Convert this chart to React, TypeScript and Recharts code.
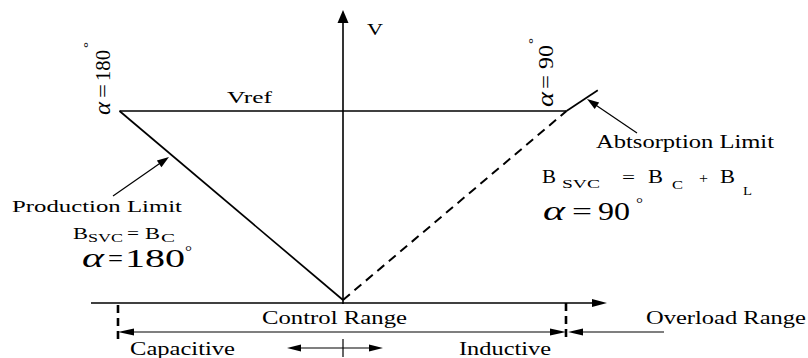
import React from 'react';
import { ComposedChart, Line, XAxis, YAxis, ReferenceLine, ReferenceDot } from 'recharts';

// ---- SVC steady-state V–I characteristic (per-unit values) ----
// current axis: -1 = capacitive limit, 0 = origin, +1 = inductive limit
const productionCurrent = [-1, 0];
const productionVoltage = [1, 0];
const controlCurrent = [0, 1];
const controlVoltage = [0, 1];
const absorptionCurrent = [1, 1.14];
const absorptionVoltage = [1, 1.11];
const vrefCurrent = [-1, 1];
const vrefVoltage = [1, 1];

// ---- layout ----
const W = 808;
const H = 358;
const OX = 343;
const OY = 300;
const UX = 223.5;
const UY = 189;
const X_DOMAIN: [number, number] = [-OX / UX, (W - OX) / UX];
const Y_DOMAIN: [number, number] = [-(H - OY) / UY, OY / UY];
const ix = (px: number) => (px - OX) / UX;
const vy = (py: number) => (OY - py) / UY;

const FONT = "'Liberation Serif', 'Times New Roman', 'DejaVu Serif', serif";

const zip = (xs: number[], ys: number[]) => xs.map((i, k) => ({ i, v: ys[k] }));

type Arrow = {
  a: [number, number];
  b: [number, number];
  start?: boolean;
  end?: boolean;
  len?: number;
  hw?: number;
  sw?: number;
  dash?: string;
};

const arrows: Arrow[] = [
  { a: [343, 304], b: [343, 10], end: true, len: 13, hw: 5.5, sw: 1.6 },
  { a: [91, 303], b: [607, 303], end: true, len: 15, hw: 4, sw: 1.4 },
  { a: [113, 196], b: [169, 157], end: true, len: 12, hw: 4, sw: 1.2 },
  { a: [637, 133], b: [587, 99], end: true, len: 12, hw: 4, sw: 1.2 },
  { a: [118, 332], b: [566, 332], start: true, end: true, len: 16, hw: 3.5, sw: 1.2 },
  { a: [664, 332], b: [568, 332], end: true, len: 15, hw: 3.5, sw: 1.2 },
  { a: [287, 348], b: [383, 348], start: true, end: true, len: 14, hw: 3.5, sw: 1.2 },
  { a: [343, 339], b: [343, 357], sw: 1.2 },
  { a: [118, 305], b: [118, 339], sw: 2.6, dash: '8 5' },
  { a: [566, 303], b: [566, 339], sw: 2.6, dash: '8 5' },
];

type Lab = { t: string; x: number; y: number; fs: number; w: number; italic?: boolean; rot?: number };

const labels: Lab[] = [
  { t: 'V', x: 367, y: 35, fs: 17, w: 16 },
  { t: 'Vref', x: 227, y: 103, fs: 17, w: 45 },
  { t: 'Production Limit', x: 12, y: 212, fs: 17, w: 170 },
  { t: 'Abtsorption Limit', x: 596, y: 148, fs: 18, w: 178 },
  { t: 'Control Range', x: 262, y: 324, fs: 18, w: 145 },
  { t: 'Overload Range', x: 646, y: 324, fs: 18, w: 160 },
  { t: 'Capacitive', x: 130, y: 355, fs: 18, w: 105 },
  { t: 'Inductive', x: 459, y: 355, fs: 18, w: 92 },
  // left formula
  { t: 'B', x: 73, y: 239, fs: 17, w: 15 },
  { t: 'SVC', x: 88, y: 242, fs: 12, w: 35 },
  { t: '=', x: 127, y: 239, fs: 16, w: 12 },
  { t: 'B', x: 145, y: 239, fs: 17, w: 15 },
  { t: 'C', x: 161, y: 242, fs: 12, w: 14 },
  { t: 'α', x: 82, y: 267, fs: 28, w: 22, italic: true },
  { t: '=', x: 108, y: 267, fs: 26, w: 15 },
  { t: '180', x: 125, y: 267, fs: 26, w: 60 },
  { t: '°', x: 185, y: 256, fs: 14, w: 7 },
  // right formula
  { t: 'B', x: 542, y: 183, fs: 18, w: 14 },
  { t: 'SVC', x: 562, y: 188, fs: 13, w: 38 },
  { t: '=', x: 622, y: 183, fs: 16, w: 13 },
  { t: 'B', x: 648, y: 183, fs: 18, w: 15 },
  { t: 'C', x: 672, y: 189, fs: 13, w: 11 },
  { t: '+', x: 699, y: 183, fs: 15, w: 9 },
  { t: 'B', x: 720, y: 183, fs: 18, w: 15 },
  { t: 'L', x: 743, y: 195, fs: 13, w: 9 },
  { t: 'α', x: 543, y: 220, fs: 28, w: 22, italic: true },
  { t: '=', x: 572, y: 220, fs: 26, w: 20 },
  { t: '90', x: 598, y: 220, fs: 26, w: 32 },
  { t: '°', x: 636, y: 208, fs: 14, w: 7 },
  // rotated alpha labels
  { t: 'α', x: 110, y: 115, fs: 24, w: 13, italic: true, rot: -90 },
  { t: '=', x: 110, y: 98, fs: 22, w: 14, rot: -90 },
  { t: '180', x: 110, y: 81, fs: 22, w: 31, rot: -90 },
  { t: '°', x: 92, y: 48, fs: 13, w: 6, rot: -90 },
  { t: 'α', x: 553, y: 107, fs: 24, w: 15, italic: true, rot: -90 },
  { t: '=', x: 553, y: 89, fs: 22, w: 14, rot: -90 },
  { t: '90', x: 553, y: 69, fs: 22, w: 24, rot: -90 },
  { t: '°', x: 537, y: 44, fs: 13, w: 6, rot: -90 },
];

function tri(tx: number, ty: number, ux: number, uy: number, L: number, hw: number, key: string) {
  const bx = tx - ux * L;
  const by = ty - uy * L;
  const px = -uy;
  const py = ux;
  const pts = `${tx},${ty} ${bx + px * hw},${by + py * hw} ${bx - px * hw},${by - py * hw}`;
  return <polygon key={key} points={pts} fill="#000" stroke="none" />;
}

const arrowShape = (o: Arrow) => (p: any) => {
  const { x1, y1, x2, y2 } = p;
  const dx = x2 - x1;
  const dy = y2 - y1;
  const len = Math.hypot(dx, dy) || 1;
  const ux = dx / len;
  const uy = dy / len;
  const L = o.len ?? 12;
  const hw = o.hw ?? 4;
  let sx = x1;
  let sy = y1;
  let ex = x2;
  let ey = y2;
  const heads: any[] = [];
  if (o.end) {
    ex = x2 - ux * L * 0.8;
    ey = y2 - uy * L * 0.8;
    heads.push(tri(x2, y2, ux, uy, L, hw, 'e'));
  }
  if (o.start) {
    sx = x1 + ux * L * 0.8;
    sy = y1 + uy * L * 0.8;
    heads.push(tri(x1, y1, -ux, -uy, L, hw, 's'));
  }
  return (
    <g>
      <line x1={sx} y1={sy} x2={ex} y2={ey} stroke="#000" strokeWidth={o.sw ?? 1.2} strokeDasharray={o.dash} />
      {heads}
    </g>
  );
};

const textShape = (l: Lab) => (p: any) => {
  const { cx, cy } = p;
  return (
    <text
      x={cx}
      y={cy}
      style={{ fontFamily: FONT, fontSize: l.fs, fontStyle: l.italic ? 'italic' : 'normal' }}
      textLength={l.w}
      lengthAdjust="spacingAndGlyphs"
      textAnchor="start"
      fill="#000"
      transform={l.rot ? `rotate(${l.rot} ${cx} ${cy})` : undefined}
    >
      {l.t}
    </text>
  );
};

const noDot = () => null;

export default function App() {
  return (
    <div style={{ position: 'absolute', left: 0, top: 0, width: W, height: H, background: '#fff' }}>
      <ComposedChart width={W} height={H} margin={{ top: 0, right: 0, bottom: 0, left: 0 }}>
        <XAxis type="number" dataKey="i" domain={X_DOMAIN} allowDataOverflow hide />
        <YAxis type="number" dataKey="v" domain={Y_DOMAIN} allowDataOverflow hide />
        {arrows.map((o, k) => (
          <ReferenceLine
            key={`a${k}`}
            segment={[
              { x: ix(o.a[0]), y: vy(o.a[1]) },
              { x: ix(o.b[0]), y: vy(o.b[1]) },
            ]}
            ifOverflow="visible"
            shape={arrowShape(o)}
          />
        ))}
        <Line data={zip(vrefCurrent, vrefVoltage)} dataKey="v" stroke="#000" strokeWidth={1.5} dot={noDot} activeDot={false} isAnimationActive={false} />
        <Line data={zip(productionCurrent, productionVoltage)} dataKey="v" stroke="#000" strokeWidth={1.7} dot={noDot} activeDot={false} isAnimationActive={false} />
        <Line data={zip(controlCurrent, controlVoltage)} dataKey="v" stroke="#000" strokeWidth={2} strokeDasharray="9 6" dot={noDot} activeDot={false} isAnimationActive={false} />
        <Line data={zip(absorptionCurrent, absorptionVoltage)} dataKey="v" stroke="#000" strokeWidth={1.7} dot={noDot} activeDot={false} isAnimationActive={false} />
        {labels.map((l, k) => (
          <ReferenceDot key={`t${k}`} x={ix(l.x)} y={vy(l.y)} r={0} ifOverflow="visible" shape={textShape(l)} />
        ))}
      </ComposedChart>
    </div>
  );
}
